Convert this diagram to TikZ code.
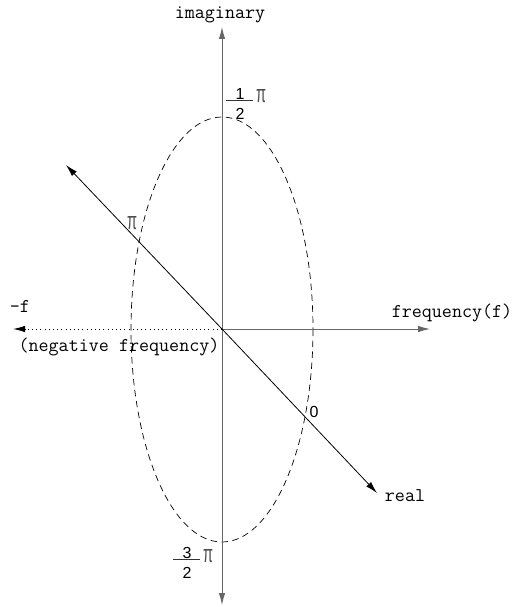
\documentclass[tikz,border=0pt]{standalone}
\usepackage{fontspec}
\setmainfont{Liberation Sans}
\usetikzlibrary{arrows.meta}
\newcommand{\mypi}{\resizebox{10pt}{13pt}{π}}
\begin{document}
\begin{tikzpicture}[x=1pt,y=-1pt,
 axis/.style={draw=black!60, line width=0.9pt},
 tip/.style={-{Latex[length=12pt,width=6.5pt]}},
 mono/.style={font=\ttfamily\fontsize{19.5}{19.5}\selectfont, inner sep=0pt},
 num/.style={font=\fontsize{16}{16}\selectfont, inner sep=0pt},
 pisym/.style={inner sep=0pt, text=black!70},
 fbar/.style={line width=0.8pt, draw=black!80},
]
\useasboundingbox (0,0) rectangle (518,607);
\coordinate (O) at (222,329);
\coordinate (Ntop) at (222,27);
\coordinate (Nbot) at (222,605);
\coordinate (E) at (430,329);
\coordinate (W) at (13,329);
\coordinate (NW) at (66,165);
\coordinate (SE) at (377,493);
\draw[dash pattern=on 6.5pt off 4.5pt, line width=0.7pt] (222,329.5) ellipse [x radius=91, y radius=212.5];
\draw[axis,tip] (O) -- (Ntop);
\draw[axis,tip] (O) -- (Nbot);
\draw[axis,tip] (O) -- (E);
\draw[dash pattern=on 1pt off 3.2pt, line width=1pt, tip] (O) -- (W);
\draw[line width=0.8pt, tip] (O) -- (NW);
\draw[line width=0.8pt, tip] (O) -- (SE);
% labels
\node[mono] (imag) at (220,15) {imaginary};
\node[mono] (freq) at (452,313) {frequency(f)};
\node[mono] (negf) at (20,306) {-f};
\node[mono] (negfreq) at (119,347) {(negative frequency)};
\node[mono] (real) at (405,496) {real};
\node[num] (zero) at (314,412) {0};
\node[pisym] (pimid) at (132,223) {\mypi};
% top fraction
\node[num] (t1) at (240,93.5) {1};
\node[num] (t2) at (240,114) {2};
\coordinate (tbl) at (226,100);
\coordinate (tbr) at (253,100);
\draw[fbar] (tbl) -- (tbr);
\node[pisym] (tpi) at (261,96.5) {\mypi};
% bottom fraction
\node[num] (b1) at (187,552.5) {3};
\node[num] (b2) at (187,572.5) {2};
\coordinate (bbl) at (173,559.5);
\coordinate (bbr) at (200,559.5);
\draw[fbar] (bbl) -- (bbr);
\node[pisym] (bpi) at (208,556) {\mypi};
\end{tikzpicture}
\end{document}
